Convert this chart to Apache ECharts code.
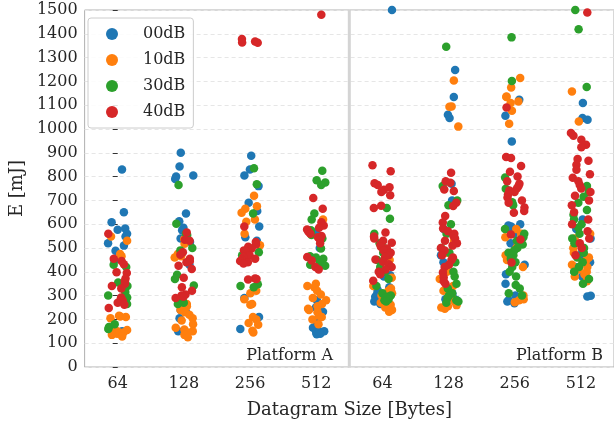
<!DOCTYPE html>
<html>
<head>
<meta charset="utf-8">
<script src="https://cdn.jsdelivr.net/npm/echarts@6/dist/echarts.min.js"></script>
<style>
  html, body { margin: 0; padding: 0; background: #fff; }
  #chart { width: 614px; height: 424px; }
</style>
</head>
<body>
<div id="chart"></div>
<script>
// categories: datagram size, first four Platform A, last four Platform B
const categories = ['64', '128', '256', '512', '64', '128', '256', '512'];
const legendNames = ['00dB', '10dB', '30dB', '40dB'];
const colors = ['#1f77b4', '#ff7f0e', '#2ca02c', '#d62728'];

// energy [mJ], one list per category
const db00 = [
  [830, 650, 608, 582, 577, 560, 548, 520, 510, 488, 447, 150],
  [900, 842, 805, 800, 790, 645, 612, 585, 575, 540, 525, 430, 240, 232, 205, 150],
  [888, 830, 805, 760, 690, 655, 590, 545, 530, 445, 290, 210, 160],
  [565, 500, 280, 268, 250, 232, 185, 165, 155, 150, 145, 140, 138],
  [1500, 385, 380, 335, 325, 310, 295, 285, 275, 265],
  [1248, 1134, 1060, 1046, 770, 700, 580, 470, 440, 310, 295, 285, 280],
  [1123, 1056, 948, 600, 595, 590, 585, 580, 560, 520, 480, 430, 390, 350, 300, 290, 280, 275, 268],
  [1109, 1046, 1039, 620, 580, 540, 500, 480, 460, 440, 420, 400, 380, 299, 296],
];
const db10 = [
  [548, 530, 475, 465, 215, 212, 210, 205, 165, 155, 150, 145, 140, 135, 128],
  [538, 518, 475, 465, 460, 265, 255, 240, 230, 220, 205, 195, 180, 165, 158, 150, 145, 135, 125],
  [720, 675, 665, 648, 620, 610, 560, 512, 320, 310, 285, 265, 262, 210, 200, 185, 178, 152, 145],
  [620, 350, 340, 335, 320, 305, 290, 280, 265, 255, 245, 240, 230, 215, 210, 200, 180],
  [450, 375, 340, 330, 320, 310, 300, 295, 290, 280, 270, 262, 250, 240, 232],
  [1204, 1095, 1093, 1010, 530, 480, 400, 370, 340, 320, 300, 290, 280, 270, 260, 255, 250, 245],
  [1214, 1174, 1137, 1134, 1116, 1109, 1077, 1022, 580, 560, 545, 520, 500, 470, 450, 420, 300, 285, 280, 272],
  [1158, 1032, 560, 540, 520, 500, 480, 460, 450, 440, 430, 420, 410, 400, 390, 380, 370, 360],
];
const db30 = [
  [430, 420, 355, 340, 325, 315, 300, 292, 265, 180, 168, 160],
  [765, 602, 560, 555, 500, 490, 388, 370, 342, 285, 280, 270, 265],
  [835, 768, 645, 482, 475, 470, 348, 340, 335],
  [825, 785, 775, 765, 645, 620, 575, 555, 540, 498, 465, 460, 455, 440, 430, 425],
  [668, 623, 560, 520, 500, 480, 450, 420, 400, 370, 340, 310, 300, 295, 290, 285, 280, 275],
  [1346, 760, 700, 680, 600, 560, 500, 480, 440, 400, 380, 350, 330, 310, 300, 290, 280, 275, 270],
  [1385, 1202, 796, 749, 692, 680, 580, 560, 545, 530, 515, 500, 490, 480, 470, 455, 440, 420, 400, 380, 345, 330, 310, 300],
  [1500, 1419, 1176, 760, 735, 715, 690, 660, 640, 620, 600, 585, 560, 540, 520, 500, 480, 460, 440, 420, 400, 370, 350],
];
const db40 = [
  [560, 455, 445, 432, 398, 395, 372, 360, 350, 340, 330, 292, 285, 278, 270, 262, 248],
  [565, 535, 530, 482, 472, 455, 445, 440, 425, 412, 375, 335, 320, 305, 300, 295, 290],
  [1378, 1368, 1363, 1362, 590, 525, 515, 505, 498, 490, 485, 470, 462, 455, 450, 445, 440, 435, 372, 370, 368],
  [1480, 710, 665, 608, 595, 585, 578, 568, 560, 550, 545, 535, 520, 462, 448, 420, 410],
  [848, 822, 772, 765, 755, 745, 735, 722, 678, 668, 565, 548, 540, 530, 522, 515, 505, 498, 490, 480, 470, 462, 452, 442, 432, 420, 410, 400, 390, 362],
  [816, 780, 774, 746, 739, 690, 676, 634, 607, 582, 570, 560, 550, 540, 530, 520, 510, 500, 490, 470, 460, 450, 430, 420, 397, 377, 360, 350],
  [1090, 882, 878, 845, 820, 800, 780, 770, 760, 750, 742, 735, 725, 712, 700, 690, 670, 655, 648, 557, 536, 439],
  [1489, 983, 972, 955, 934, 923, 874, 867, 850, 829, 810, 795, 780, 765, 750, 735, 720, 700, 680, 650, 620, 600, 570, 540, 520, 500, 470],
];

// divider between Platform A and Platform B (category position, energy range)
const dividerAt = 3.5;
const yRange = [0, 1500];

const groups = [db00, db10, db30, db40];
const font = 'DejaVu Serif';
const textColor = '#262626';

const toPoints = (lists) => lists.flatMap((vals, i) => vals.map((v) => [i, v]));

const chart = echarts.init(document.getElementById('chart'));

chart.setOption({
  animation: false,
  textStyle: { fontFamily: font },
  grid: {
    left: 78, right: -2, top: 10, bottom: 56,
    show: true, borderColor: '#b0b0b0', borderWidth: 1,
  },
  legend: {
    left: 88, top: 18, orient: 'vertical',
    data: legendNames,
    icon: 'circle', itemWidth: 12, itemHeight: 12, itemGap: 10,
    padding: [8, 8, 8, 18],
    backgroundColor: 'rgba(255,255,255,0.85)',
    borderColor: '#cccccc', borderWidth: 1, borderRadius: 3,
    textStyle: { fontFamily: font, fontSize: 16, color: textColor, lineHeight: 16, padding: [0, 0, 0, 20] },
  },
  xAxis: [
    {
      type: 'category',
      data: categories,
      jitter: 20,
      jitterOverlap: true,
      name: 'Datagram Size [Bytes]',
      nameLocation: 'middle', nameGap: 34,
      nameTextStyle: { fontFamily: font, fontSize: 18, color: textColor },
      axisLine: { show: false },
      axisTick: { alignWithLabel: true, length: 5, lineStyle: { color: '#333' } },
      axisLabel: { fontFamily: font, fontSize: 16, color: textColor, margin: 9 },
      splitLine: { show: false },
    },
    {
      type: 'value',
      min: -0.5, max: 7.5,
      show: false,
    },
  ],
  yAxis: {
    type: 'value',
    min: yRange[0], max: yRange[1], interval: 100,
    name: 'E [mJ]',
    nameLocation: 'middle', nameGap: 52,
    nameTextStyle: { fontFamily: font, fontSize: 18, color: textColor },
    axisLine: { show: false },
    axisTick: { show: true, length: 5, lineStyle: { color: '#333' } },
    axisLabel: { fontFamily: font, fontSize: 16, color: textColor, margin: 7, formatter: (v) => String(v) },
    splitLine: { lineStyle: { color: '#e6e6e6', type: [4, 3] } },
  },
  graphic: [
    { type: 'text', right: 281, top: 348, style: { text: 'Platform A', font: '16px "DejaVu Serif"', fill: textColor } },
    { type: 'text', right: 11, top: 348, style: { text: 'Platform B', font: '16px "DejaVu Serif"', fill: textColor } },
  ],
  series: [
    {
      type: 'line',
      xAxisIndex: 1,
      symbol: 'none',
      silent: true,
      z: 1,
      lineStyle: { color: '#d4d4d4', width: 3 },
      data: [[dividerAt, yRange[0]], [dividerAt, yRange[1]]],
    },
    ...groups.map((g, k) => ({
      name: legendNames[k],
      type: 'scatter',
      symbolSize: 8.5,
      z: 3,
      itemStyle: { color: colors[k], opacity: 1 },
      data: toPoints(g),
    })),
  ],
});
</script>
</body>
</html>
